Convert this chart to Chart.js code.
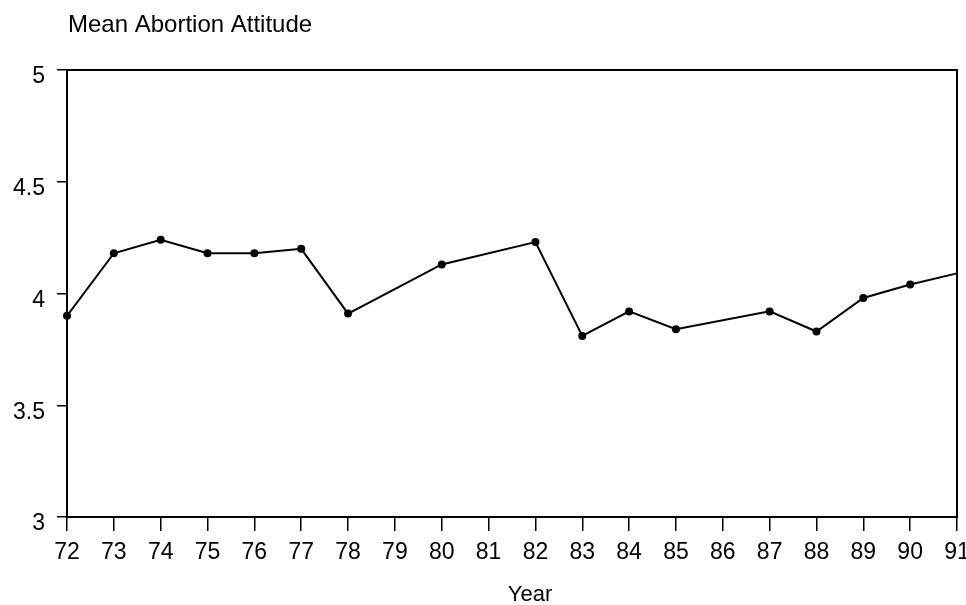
<!DOCTYPE html>
<html>
<head>
<meta charset="utf-8">
<script src="https://cdn.jsdelivr.net/npm/chart.js@4/dist/chart.umd.min.js"></script>
<style>
  html, body { margin: 0; padding: 0; background: #fff; }
  #wrap { width: 966px; height: 605px; }
</style>
</head>
<body>
<div id="wrap"><canvas id="chart"></canvas></div>
<script>
'use strict'

const years = ['72', '73', '74', '75', '76', '77', '78', '79', '80', '81',
  '82', '83', '84', '85', '86', '87', '88', '89', '90', '91']

// no survey in 79, 81, 86
const attitude = [3.90, 4.18, 4.24, 4.18, 4.18, 4.20, 3.91, null, 4.13, null,
  4.23, 3.81, 3.92, 3.84, null, 3.92, 3.83, 3.98, 4.04, 4.09]

const yTicks = [3, 3.5, 4, 4.5, 5]

const fontFamily = '"Liberation Sans", Arial, Helvetica, sans-serif'

// frame around the plot plus the two captions
const framePlugin = {
  id: 'frame',
  afterDraw(chart) {
    const { ctx, chartArea: a } = chart
    ctx.save()
    ctx.strokeStyle = '#000'
    ctx.lineWidth = 2
    ctx.strokeRect(a.left, a.top, a.right - a.left, a.bottom - a.top)
    ctx.fillStyle = '#000'
    ctx.textBaseline = 'middle'
    ctx.textAlign = 'left'
    ctx.font = '24px ' + fontFamily
    ctx.fillText('Mean Abortion Attitude', 68, 25)
    ctx.textAlign = 'center'
    ctx.font = '22px ' + fontFamily
    ctx.fillText('Year', 530, 595)
    ctx.restore()
  },
}

const ctx = document.getElementById('chart').getContext('2d')

const chart = new Chart(ctx, {
  type: 'line',
  data: {
    labels: years,
    datasets: [
      {
        label: 'Mean Abortion Attitude',
        data: attitude,
        borderColor: '#000',
        backgroundColor: '#000',
        borderWidth: 2,
        pointRadius: attitude.map((v, i) => (i === attitude.length - 1 ? 0 : 4)),
        pointBorderWidth: 0,
        spanGaps: true,
        tension: 0,
      },
    ],
  },
  options: {
    responsive: true,
    maintainAspectRatio: false,
    animation: false,
    layout: { padding: { top: 70, right: 0, bottom: 0, left: 0 } },
    plugins: {
      legend: { display: false },
      tooltip: { enabled: false },
    },
    scales: {
      x: {
        offset: false,
        afterFit(scale) {
          scale.height = 88
          scale.paddingLeft = 0
          scale.paddingRight = 9
        },
        grid: {
          drawOnChartArea: false,
          drawTicks: true,
          tickLength: 14,
          color: '#000',
          lineWidth: 1.5,
        },
        border: { display: true, color: '#000', width: 2 },
        ticks: {
          autoSkip: false,
          maxRotation: 0,
          padding: 8,
          color: '#000',
          font: { family: fontFamily, size: 23 },
        },
      },
      y: {
        min: 3,
        max: 5,
        afterFit(scale) {
          scale.width = 67
          scale.paddingTop = 0
          scale.paddingBottom = 0
        },
        afterBuildTicks(scale) { scale.ticks = yTicks.map(v => ({ value: v })) },
        grid: {
          drawOnChartArea: false,
          drawTicks: true,
          tickLength: 10,
          color: '#000',
          lineWidth: 1.5,
        },
        border: { display: true, color: '#000', width: 2 },
        ticks: {
          padding: 12,
          labelOffset: 7,
          color: '#000',
          font: { family: fontFamily, size: 23 },
          callback: v => String(v),
        },
      },
    },
  },
  plugins: [framePlugin],
})
</script>
</body>
</html>
